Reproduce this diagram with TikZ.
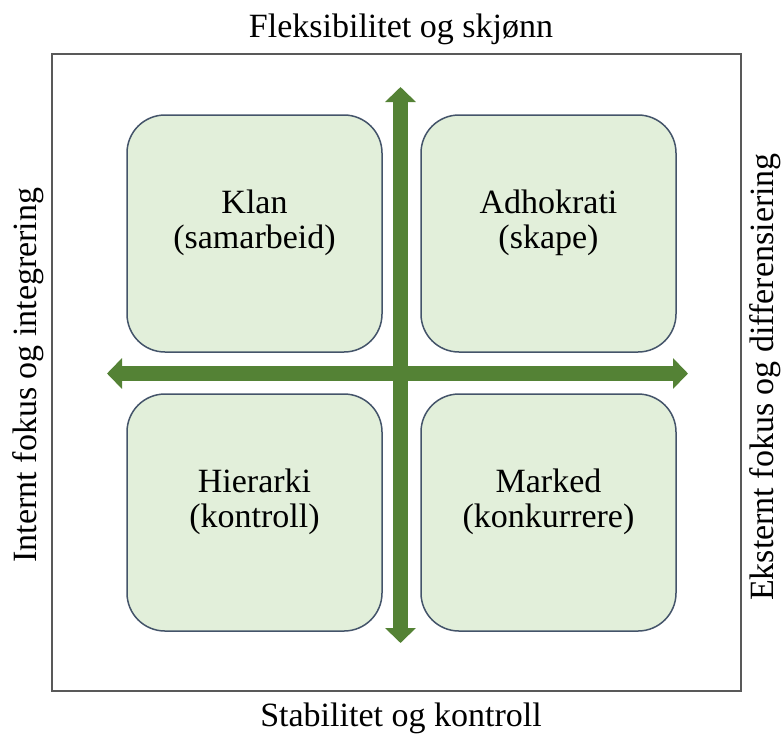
\documentclass[tikz,border=0pt]{standalone}
\usepackage{fontspec}
\setmainfont{Liberation Serif}
\usetikzlibrary{arrows.meta,positioning}
\definecolor{boxfill}{HTML}{E2EFDA}
\definecolor{boxline}{HTML}{44546A}
\definecolor{axisgreen}{HTML}{548235}
\definecolor{framegray}{HTML}{595959}

\begin{document}
\begin{tikzpicture}[x=1pt,y=-1pt,
  quad/.style={draw=boxline,line width=1.5pt,fill=boxfill,rounded corners=38pt,minimum width=255pt,minimum height=237pt,inner sep=0pt},
  lbl/.style={font=\fontsize{34}{35}\selectfont,align=center},
  axis/.style={line width=15pt,draw=axisgreen,{Triangle[width=30pt,length=15pt]}-{Triangle[width=30pt,length=15pt]}}]
\useasboundingbox (0,0) rectangle (784,740);
% outer frame
\node[draw=framegray,line width=2.2pt,minimum width=689pt,minimum height=637pt,inner sep=0pt] (frame) at (396.5,372.5) {};

% quadrants
\node[quad] (klan) at (254.5,233.5) {};
\node[quad] (adho) at (548.5,233.5) {};
\node[quad] (hier) at (254.5,512.5) {};
\node[quad] (mark) at (548.5,512.5) {};
\node[lbl] (klantxt) at ([yshift=11pt]klan.center) {Klan\\(samarbeid)};
\node[lbl] (adhotxt) at ([yshift=11pt]adho.center) {Adhokrati\\(skape)};
\node[lbl] (hiertxt) at ([yshift=11pt]hier.center) {Hierarki\\(kontroll)};
\node[lbl] (marktxt) at ([yshift=11pt]mark.center) {Marked\\(konkurrere)};

% axes
\coordinate (north) at (400.5,87);
\coordinate (south) at (400.5,643);
\coordinate (west) at (107,373.5);
\coordinate (east) at (688,373.5);
\draw[axis] (west) -- (east);
\draw[axis] (north) -- (south);

% axis labels
\node[lbl,anchor=base] (flex) at (401,37) {Fleksibilitet og skjønn};
\node[lbl,anchor=base] (stab) at (401,726) {Stabilitet og kontroll};
\node[lbl,rotate=90] (intern) at (28,375) {Internt fokus og integrering};
\node[lbl,rotate=90] (ekstern) at (765,377) {Eksternt fokus og differensiering};
\end{tikzpicture}
\end{document}
